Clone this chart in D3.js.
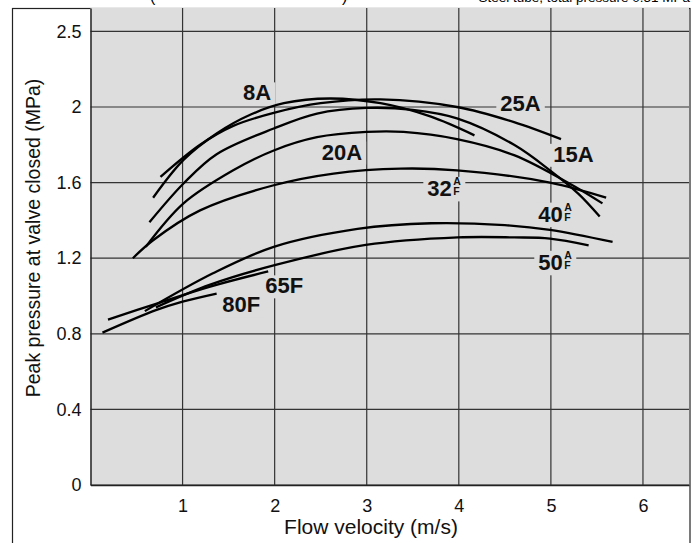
<!DOCTYPE html>
<meta charset="utf-8">
<style>
body { margin: 0; background: #fff; }
svg { display: block; font-family: "Liberation Sans", Arial, sans-serif; }
.grid line { stroke: #333; stroke-width: 1.2px; }
.curves path { fill: none; stroke: #000; stroke-width: 2.3px; }
.lbl text { font-weight: bold; fill: #111; }
</style>
<svg width="693" height="543"></svg>
<script src="https://cdn.jsdelivr.net/npm/d3@7"></script>
<script>

// x = flow velocity (m/s), y = peak pressure at valve closed (MPa)
var xTicks = [1, 2, 3, 4, 5, 6];
var yTicks = [0, 0.4, 0.8, 1.2, 1.6, 2, 2.4];
var yTickLabels = ["0", "0.4", "0.8", "1.2", "1.6", "2", "2.5"];   // top line is printed "2.5"

var seriesNames = ["8A", "25A", "15A", "20A", "32", "40", "50", "65F", "80F"];

var curve8A  = [[0.68,1.52],[1.01,1.72],[1.37,1.86],[1.74,1.96],[2.1,2.02],[2.6,2.045],[3.15,2.02],[3.69,1.95],[4.17,1.85]];
var curve25A = [[0.76,1.63],[1.19,1.80],[1.55,1.90],[2.0,1.97],[2.5,2.02],[3.15,2.04],[3.98,2.0],[4.6,1.92],[5.11,1.83]];
var curve15A = [[0.64,1.39],[1.01,1.595],[1.37,1.75],[1.99,1.886],[2.46,1.965],[3.0,1.995],[3.5,1.985],[3.98,1.94],[4.6,1.80],[4.99,1.665],[5.3,1.54],[5.53,1.42]];
var curve20A = [[0.60,1.26],[1.01,1.49],[1.55,1.665],[1.99,1.77],[2.46,1.84],[3.0,1.868],[3.4,1.868],[3.98,1.83],[4.6,1.745],[5.22,1.59],[5.56,1.49]];
var curve32  = [[0.46,1.20],[0.68,1.295],[1.19,1.453],[1.99,1.586],[2.64,1.648],[3.37,1.674],[3.98,1.665],[4.99,1.60],[5.6,1.52]];
var curve40  = [[0.59,0.92],[1.33,1.12],[1.99,1.26],[2.9,1.355],[3.7,1.385],[4.5,1.375],[4.99,1.35],[5.67,1.286]];
var curve50  = [[0.71,0.94],[1.3,1.06],[2.0,1.163],[2.99,1.27],[3.99,1.31],[4.6,1.31],[4.99,1.304],[5.41,1.268]];
var curve65F = [[0.19,0.875],[0.72,0.96],[1.3,1.05],[1.93,1.13]];
var curve80F = [[0.13,0.806],[0.71,0.925],[1.0,0.97],[1.37,1.013]];

var curves = [curve8A, curve25A, curve15A, curve20A, curve32, curve40, curve50, curve65F, curve80F];

// label anchors (data units, text centre / baseline), sub = stacked A over F
var labelNames = ["8A", "20A", "25A", "15A", "32", "40", "50", "65F", "80F"];
var labelX     = [1.81, 2.73, 4.67, 5.245, 3.84, 5.045, 5.045, 2.105, 1.638];
var labelY     = [2.035, 1.722, 1.98, 1.71, 1.527, 1.391, 1.136, 1.014, 0.914];
var labelSub   = [false, false, false, false, true, true, true, false, false];

var svg = d3.select("svg");

var plot = {left: 90.5, right: 689, top: 8, bottom: 485};

var x = d3.scaleLinear().domain([0, 6.5]).range([plot.left, plot.right]);
var y = d3.scaleLinear().domain([0, 2.5238]).range([plot.bottom, plot.top]);

// outer frame
svg.append("rect")
    .attr("x", 12.5).attr("y", 8.5)
    .attr("width", 677.5).attr("height", 560)
    .attr("fill", "#fff").attr("stroke", "#222").attr("stroke-width", 1.2);

// heading line, cut by the top edge of the picture
svg.append("text").attr("x", 150).attr("y", 2).attr("font-size", 16).text("(");
svg.append("text").attr("x", 342).attr("y", 2).attr("font-size", 16).text(")");
svg.append("text").attr("x", 690).attr("y", 2).attr("font-size", 13.5)
    .attr("text-anchor", "end").text("Steel tube, total pressure 0.51 MPa");

// plot background
svg.append("rect")
    .attr("x", plot.left).attr("y", plot.top)
    .attr("width", plot.right - plot.left).attr("height", plot.bottom - plot.top)
    .attr("fill", "#dddddd");

var grid = svg.append("g").attr("class", "grid");
grid.selectAll(".v").data(xTicks).enter().append("line")
    .attr("x1", function(d) { return x(d); }).attr("x2", function(d) { return x(d); })
    .attr("y1", plot.top).attr("y2", plot.bottom);
grid.selectAll(".h").data(yTicks).enter().append("line")
    .attr("y1", function(d) { return y(d); }).attr("y2", function(d) { return y(d); })
    .attr("x1", plot.left).attr("x2", plot.right);

// axes
var xAxis = d3.axisBottom(x).tickValues(xTicks).tickSize(0).tickPadding(14)
    .tickFormat(d3.format("d"));
var gx = svg.append("g").attr("transform", "translate(0," + plot.bottom + ")").call(xAxis);
gx.select(".domain").attr("stroke", "#222").attr("stroke-width", 1.5);

var yAxis = d3.axisLeft(y).tickValues(yTicks).tickSize(0).tickPadding(9)
    .tickFormat(function(d, i) { return yTickLabels[i]; });
var gy = svg.append("g").attr("transform", "translate(" + plot.left + ",0)").call(yAxis);
gy.select(".domain").attr("stroke", "#222").attr("stroke-width", 1.5);

svg.selectAll(".tick text").attr("font-size", 18)
    .attr("font-family", "Liberation Sans, Arial, sans-serif").attr("fill", "#111");

svg.append("text")
    .attr("x", 371).attr("y", 534)
    .attr("text-anchor", "middle").attr("font-size", 21).attr("fill", "#111")
    .text("Flow velocity (m/s)");

svg.append("text")
    .attr("transform", "translate(40," + 238 + ") rotate(-90)")
    .attr("text-anchor", "middle").attr("font-size", 19.5).attr("fill", "#111")
    .text("Peak pressure at valve closed (MPa)");

// labels: first the gray patches that break the grid, then curves, then text
var lblBg = svg.append("g");
var curveG = svg.append("g").attr("class", "curves");
var lbl = svg.append("g").attr("class", "lbl");

labelNames.forEach(function(name, i) {
  var g = lbl.append("g").attr("transform", "translate(" + x(labelX[i]) + "," + y(labelY[i]) + ")");
  if (!labelSub[i]) {
    g.append("text").attr("text-anchor", "middle").attr("font-size", 22).text(name);
  } else {
    var t = g.append("text").attr("font-size", 22).text(name);
    var w = t.node().getComputedTextLength();
    t.attr("x", -(w + 9) / 2);
    g.append("text").attr("font-size", 10.5).attr("x", (w - 9) / 2 + 1.5).attr("y", -11.5).text("A");
    g.append("text").attr("font-size", 10.5).attr("x", (w - 9) / 2 + 1.5).attr("y", -1).text("F");
  }
  var b = g.node().getBBox();
  lblBg.append("rect")
      .attr("x", x(labelX[i]) + b.x - 4).attr("y", y(labelY[i]) + b.y + 2)
      .attr("width", b.width + 8).attr("height", b.height - 2)
      .attr("fill", "#dddddd");
});

var line = d3.line()
    .x(function(d) { return x(d[0]); })
    .y(function(d) { return y(d[1]); })
    .curve(d3.curveCatmullRom.alpha(0.5));

curveG.selectAll("path").data(curves).enter().append("path")
    .attr("d", line)
    .append("title").text(function(d, i) { return seriesNames[i]; });

</script>
